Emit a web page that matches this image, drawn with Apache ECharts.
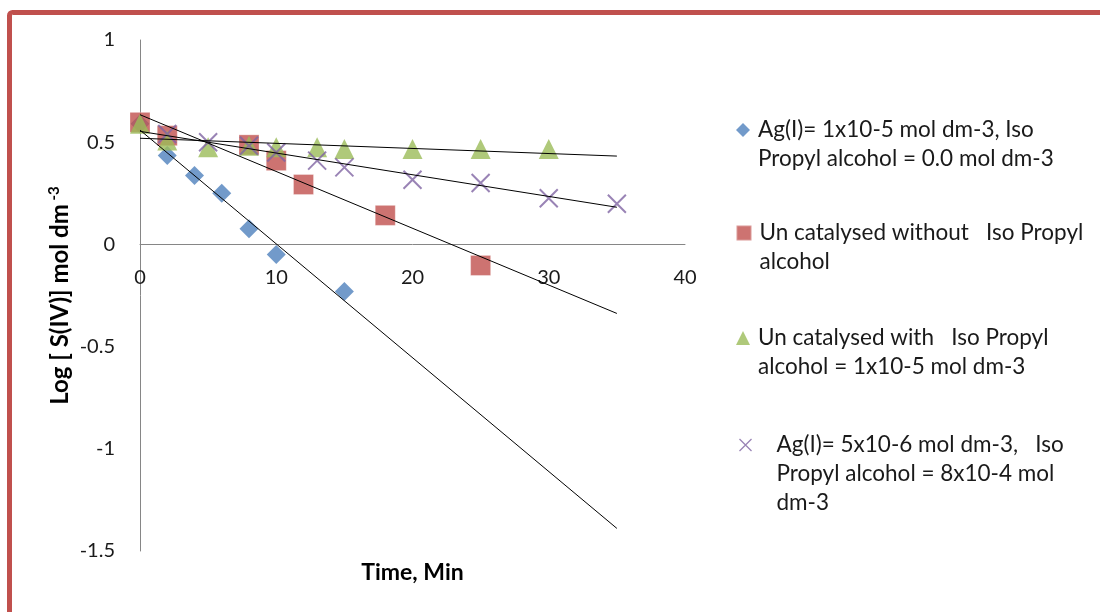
<!DOCTYPE html>
<html>
<head>
<meta charset="utf-8">
<script src="https://cdn.jsdelivr.net/npm/echarts@6/dist/echarts.min.js"></script>
<style>
html,body{margin:0;padding:0;background:#fff;}
#chart{width:1100px;height:612px;}
</style>
</head>
<body>
<div id="chart"></div>
<script>
// ---- data ----
const timeAg1 = [0, 2, 4, 6, 8, 10, 15];
const logAg1 = [0.59, 0.435, 0.337, 0.25, 0.077, -0.049, -0.23];

const timeUncatNoIPA = [0, 2, 8, 10, 12, 18, 25];
const logUncatNoIPA = [0.597, 0.532, 0.487, 0.41, 0.293, 0.142, -0.103];

const timeUncatIPA = [0, 2, 5, 8, 10, 13, 15, 20, 25, 30];
const logUncatIPA = [0.59, 0.508, 0.475, 0.483, 0.475, 0.475, 0.467, 0.467, 0.467, 0.467];

const timeAg2 = [2, 5, 8, 10, 13, 15, 20, 25, 30, 35];
const logAg2 = [0.54, 0.50, 0.483, 0.45, 0.41, 0.377, 0.316, 0.30, 0.226, 0.199];

const seriesNames = [
  'Ag(I)= 1x10-5 mol dm-3, Iso\nPropyl alcohol = 0.0 mol dm-3',
  'Un catalysed without   Iso Propyl\nalcohol',
  'Un catalysed with   Iso Propyl\nalcohol = 1x10-5 mol dm-3',
  'Ag(I)= 5x10-6 mol dm-3,   Iso\nPropyl alcohol = 8x10-4 mol\ndm-3'
];
const xTicks = [0, 10, 20, 30, 40];
const yTicks = [-1.5, -1, -0.5, 0, 0.5, 1];

// ---- helpers ----
function pairs(xs, ys) { return xs.map((x, i) => [x, ys[i]]); }
function fit(xs, ys) {
  const n = xs.length;
  const mx = xs.reduce((a, b) => a + b, 0) / n;
  const my = ys.reduce((a, b) => a + b, 0) / n;
  let sxy = 0, sxx = 0;
  for (let i = 0; i < n; i++) { sxy += (xs[i] - mx) * (ys[i] - my); sxx += (xs[i] - mx) * (xs[i] - mx); }
  const b = sxy / sxx;
  return { a: my - b * mx, b: b };
}
const allX = [].concat(timeAg1, timeUncatNoIPA, timeUncatIPA, timeAg2);
const trendEnd = Math.max.apply(null, allX);
function trend(xs, ys) {
  const f = fit(xs, ys);
  return [[0, f.a], [trendEnd, f.a + f.b * trendEnd]];
}

const colors = ['#4F81BD', '#C0504D', '#9BBB59', '#8064A2'];
const xPath = 'path://M0,0L10,10M10,0L0,10';
const FONT = 'Lato';

const chart = echarts.init(document.getElementById('chart'), null, { renderer: 'canvas' });

const L = 29;
function legendFor(i, icon, iconCenterY, lines, padLeft, size) {
  const total = 2 * lines - 1;           // leading blank lines keep line 1 level with the icon
  return {
    orient: 'vertical',
    left: 743 - size / 2,
    top: iconCenterY - total * L / 2,
    padding: 0,
    itemWidth: size,
    itemHeight: size,
    selectedMode: false,
    formatter: name => '\u200b\n'.repeat(lines - 1) + name,
    data: [{
      name: seriesNames[i],
      icon: icon,
      itemStyle: i === 3 ? { color: 'none', borderColor: colors[3], borderWidth: 1.3 } : undefined,
      textStyle: { padding: [0, 0, 0, padLeft] }
    }],
    textStyle: { fontFamily: FONT, fontSize: 22.5, lineHeight: L, color: '#1a1a1a' }
  };
}

const scatterBase = { type: 'scatter', z: 3 };
const trendBase = {
  type: 'line', showSymbol: false, symbol: 'none', silent: true, z: 5,
  lineStyle: { color: '#000', width: 1 }, itemStyle: { color: '#000' }
};

const option = {
  animation: false,
  backgroundColor: '#fff',
  grid: { left: 140, right: 415, top: 40, bottom: 61, containLabel: false, outerBoundsMode: 'none' },
  xAxis: {
    type: 'value', min: 0, max: 40, interval: 10,
    axisLine: { onZero: true, lineStyle: { color: '#868686', width: 1 } },
    axisTick: { show: false },
    splitLine: { show: false },
    // labels sit just under the zero line (as in the reference)
    axisLabel: { margin: -283, fontFamily: FONT, fontSize: 20, color: '#1a1a1a',
      formatter: v => (xTicks.indexOf(v) >= 0 ? String(v) : '') },
    name: 'Time, Min', nameLocation: 'middle', nameGap: 10,
    nameTextStyle: { fontFamily: FONT, fontSize: 23, fontWeight: 'bold', color: '#000' }
  },
  yAxis: {
    type: 'value', min: -1.5, max: 1, interval: 0.5,
    axisLine: { show: true, lineStyle: { color: '#868686', width: 1 } },
    axisTick: { show: false },
    splitLine: { show: false },
    axisLabel: { margin: 25, fontFamily: FONT, fontSize: 20, color: '#1a1a1a',
      formatter: v => (yTicks.indexOf(v) >= 0 ? String(v) : '') },
    name: '{n|Log [ S(IV)] mol dm}{s| -3}', nameLocation: 'middle', nameGap: 66,
    nameTextStyle: {
      rich: {
        n: { fontFamily: FONT, fontSize: 24, fontWeight: 'bold', color: '#000' },
        s: { fontFamily: FONT, fontSize: 15, fontWeight: 'bold', color: '#000', verticalAlign: 'top', padding: [0, 0, 12, 0] }
      }
    }
  },
  legend: [
    legendFor(0, 'diamond', 130, 2, 3, 14),
    legendFor(1, 'rect', 233, 2, 3, 15),
    legendFor(2, 'triangle', 338, 2, 3, 14),
    legendFor(3, xPath, 445, 3, 20, 12)
  ],
  graphic: [{
    type: 'rect', silent: true, z: 100,
    shape: { x: 9.5, y: 12.5, width: 1200, height: 700, r: 3 },
    style: { fill: 'none', stroke: '#C0504D', lineWidth: 5 }
  }],
  series: [
    Object.assign({}, scatterBase, {
      name: seriesNames[0], symbol: 'diamond', symbolSize: 19,
      itemStyle: { color: colors[0] }, data: pairs(timeAg1, logAg1)
    }),
    Object.assign({}, scatterBase, {
      name: seriesNames[1], symbol: 'rect', symbolSize: 20,
      itemStyle: { color: colors[1], borderColor: 'rgba(255,255,255,0.35)', borderWidth: 1 },
      data: pairs(timeUncatNoIPA, logUncatNoIPA)
    }),
    Object.assign({}, scatterBase, {
      name: seriesNames[2], symbol: 'triangle', symbolSize: 20,
      itemStyle: { color: colors[2] }, data: pairs(timeUncatIPA, logUncatIPA)
    }),
    Object.assign({}, scatterBase, {
      name: seriesNames[3], symbol: xPath, symbolSize: 18,
      itemStyle: { color: 'none', borderColor: colors[3], borderWidth: 2 },
      data: pairs(timeAg2, logAg2)
    }),
    Object.assign({}, trendBase, { name: 't1', data: trend(timeAg1, logAg1) }),
    Object.assign({}, trendBase, { name: 't2', data: trend(timeUncatNoIPA, logUncatNoIPA) }),
    Object.assign({}, trendBase, { name: 't3', data: trend(timeUncatIPA, logUncatIPA) }),
    Object.assign({}, trendBase, { name: 't4', data: trend(timeAg2, logAg2) })
  ]
};
chart.setOption(option);
</script>
</body>
</html>
